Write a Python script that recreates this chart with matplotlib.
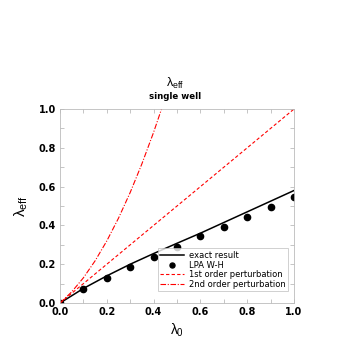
import matplotlib
matplotlib.use("Agg")
import matplotlib.pyplot as plt
from matplotlib.ticker import MultipleLocator

plt.rcParams['font.family'] = ['DejaVu Sans']
plt.rcParams['mathtext.fontset'] = 'custom'
plt.rcParams['mathtext.rm'] = 'Liberation Sans'
plt.rcParams['mathtext.it'] = 'Liberation Sans'

# data
lam0_exact = [0.0, 0.1, 0.2, 0.3, 0.4, 0.5, 0.6, 0.7, 0.8, 0.9, 1.0]
exact = [0.0, 0.075, 0.14, 0.2, 0.255, 0.308, 0.36, 0.415, 0.47, 0.525, 0.58]
lam0_lpa = [0.0, 0.1, 0.2, 0.3, 0.4, 0.5, 0.6, 0.7, 0.8, 0.9, 1.0]
lpa = [0.0, 0.072, 0.129, 0.186, 0.238, 0.29, 0.343, 0.392, 0.445, 0.496, 0.548]
lam0_p1 = [0.0, 1.0]
pert1 = [0.0, 1.0]
lam0_p2 = [0.0, 0.05, 0.1, 0.15, 0.2, 0.25, 0.3, 0.35, 0.4, 0.45, 0.5]
pert2 = [0.0, 0.0575, 0.13, 0.2175, 0.32, 0.4375, 0.57, 0.7175, 0.88, 1.0575, 1.25]

fig = plt.figure(figsize=(3.54, 3.54), dpi=100)
ax = fig.add_axes([0.1695, 0.144, 0.661, 0.548])

ax.plot(lam0_exact, exact, color='black', lw=1.1, label='exact result')
ax.plot(lam0_lpa, lpa, 'o', color='black', ms=4.5, label='LPA W-H')
ax.plot(lam0_p1, pert1, color='red', lw=0.8, ls=(0, (3, 2)), label='1st order perturbation')
ax.plot(lam0_p2, pert2, color='red', lw=0.8, ls=(0, (5, 1.5, 1, 1.5)), label='2nd order perturbation')

ax.set_xlim(0, 1)
ax.set_ylim(0, 1)
ax.xaxis.set_major_locator(MultipleLocator(0.2))
ax.yaxis.set_major_locator(MultipleLocator(0.2))
ax.xaxis.set_minor_locator(MultipleLocator(0.1))
ax.yaxis.set_minor_locator(MultipleLocator(0.1))
ax.tick_params(which='both', direction='in', top=True, right=True, color='#bbbbbb',
               length=3, width=0.6)
ax.tick_params(which='major', labelsize=7, pad=3)
for lab in ax.get_xticklabels() + ax.get_yticklabels():
    lab.set_fontweight('bold')
for s in ax.spines.values():
    s.set_color('#bbbbbb')
    s.set_linewidth(0.6)

ax.set_xlabel(r'$\lambda_{0}$', fontsize=10, labelpad=3)
ax.set_ylabel(r'$\lambda_{\rm eff}$', fontsize=11, labelpad=6)
fig.text(0.495, 0.765, r'$\lambda_{\rm eff}$', ha='center', va='center', fontsize=9)
fig.text(0.495, 0.726, 'single well', ha='center', va='center', fontsize=6.2, fontweight='bold')

leg = ax.legend(loc='lower right', fontsize=6.0, frameon=True, fancybox=False,
                edgecolor='#bbbbbb', borderpad=0.3, labelspacing=0.08,
                handlelength=2.8, handletextpad=0.6, borderaxespad=0,
                markerscale=0.8, bbox_to_anchor=(0.974, 0.06))
leg.get_frame().set_linewidth(0.6)

fig.savefig('out.png', dpi=100)
